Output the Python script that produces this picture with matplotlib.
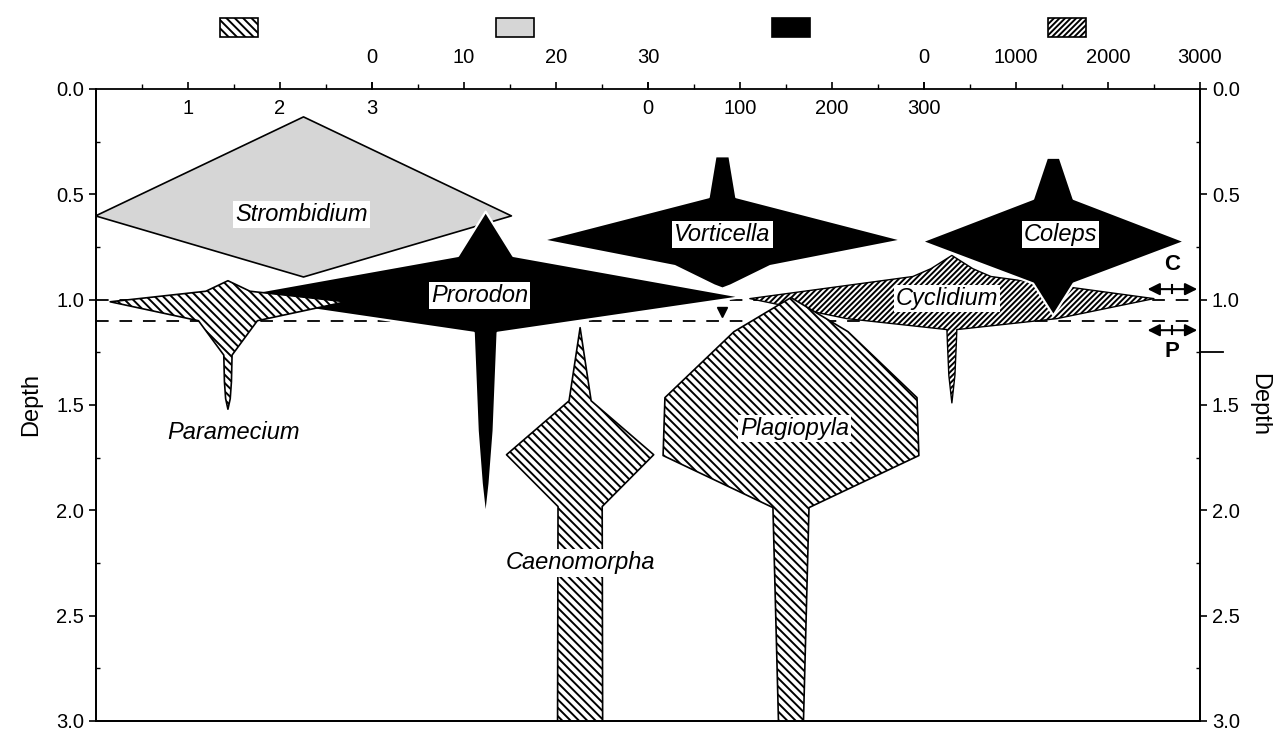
import matplotlib
matplotlib.use("Agg")
import matplotlib.pyplot as plt
from matplotlib.patches import Rectangle

plt.rcParams['font.family'] = ['Liberation Sans', 'DejaVu Sans']
plt.rcParams['hatch.linewidth'] = 1.4

# ---------------------------------------------------------------
# Abundance scales shown along the top (one per fill style)
# ---------------------------------------------------------------
scale_names = ['hatch', 'stipple', 'black', 'dense']
scale_max = [3, 30, 300, 3000]
scale_major = [[1, 2, 3], [0, 10, 20, 30], [0, 100, 200, 300], [0, 1000, 2000, 3000]]
scale_minor = [[0.5, 1.5, 2.5], [5, 15, 25], [50, 150, 250], [500, 1500, 2500]]
scale_labels_inside = [True, False, True, False]

depth_ticks = [0.0, 0.5, 1.0, 1.5, 2.0, 2.5, 3.0]
depth_minor = [0.25, 0.75, 1.25, 1.75, 2.25, 2.75]

# ---------------------------------------------------------------
# Kite profiles: depth and half-width abundance (in the units of its scale)
# ---------------------------------------------------------------
strombidium_depth = [0.13, 0.60, 0.89]
strombidium_abund = [0.0, 22.6, 0.0]

prorodon_depth = [0.58, 0.79, 0.985, 1.155, 1.62, 1.87, 2.04]
prorodon_abund = [0.0, 30.0, 279.0, 13.0, 8.7, 4.3, 0.0]

vorticella_depth = [0.317, 0.511, 0.715, 0.838, 0.93, 0.945]
vorticella_abund = [7.6, 15.0, 196.0, 52.0, 9.0, 0.0]

coleps_depth = [0.324, 0.519, 0.722, 0.921, 1.073]
coleps_abund = [7.0, 22.0, 143.0, 22.0, 0.0]

paramecium_depth = [0.91, 0.96, 1.01, 1.10, 1.263, 1.39, 1.47, 1.52]
paramecium_abund = [0.0, 0.24, 1.28, 0.32, 0.045, 0.038, 0.025, 0.0]

cyclidium_depth = [0.79, 0.853, 0.89, 0.995, 1.09, 1.142, 1.20, 1.36, 1.49]
cyclidium_abund = [0.0, 228.0, 424.0, 2196.0, 1141.0, 54.0, 49.0, 33.0, 0.0]

plagiopyla_depth = [0.99, 1.152, 1.465, 1.74, 1.987, 3.0]
plagiopyla_abund = [0.0, 0.62, 1.37, 1.39, 0.196, 0.136]

caenomorpha_depth = [1.133, 1.48, 1.736, 1.982, 3.0]
caenomorpha_abund = [0.0, 0.12, 0.80, 0.24, 0.245]

c_zone_depth = 1.0
p_zone_depth = 1.1
p_zone_base = 1.25
marker_depth = 1.06

# ---------------------------------------------------------------
# Layout: position of each kite's centre line (0-4, one unit per scale)
# ---------------------------------------------------------------
kites = [
    # name, depth, abund, scale index, centre, zorder, label pos (x, depth), boxed
    ('Strombidium', strombidium_depth, strombidium_abund, 1, 0.75, 2, (0.745, 0.595), True),
    ('Vorticella', vorticella_depth, vorticella_abund, 2, 2.268, 3, (2.27, 0.69), True),
    ('Prorodon', prorodon_depth, prorodon_abund, 2, 1.41, 4, (1.39, 0.98), True),
    ('Paramecium', paramecium_depth, paramecium_abund, 0, 0.478, 5, (0.50, 1.63), False),
    ('Cyclidium', cyclidium_depth, cyclidium_abund, 3, 3.101, 3, (3.083, 0.995), True),
    ('Coleps', coleps_depth, coleps_abund, 2, 3.467, 4, (3.495, 0.69), True),
    ('Plagiopyla', plagiopyla_depth, plagiopyla_abund, 0, 2.518, 5, (2.532, 1.61), True),
    ('Caenomorpha', caenomorpha_depth, caenomorpha_abund, 0, 1.754, 5, (1.754, 2.25), True),
]

styles = {
    'hatch': dict(facecolor='white', edgecolor='black', hatch='\\\\\\\\', linewidth=1.2),
    'stipple': dict(facecolor='#d6d6d6', edgecolor='black', linewidth=1.2),
    'black': dict(facecolor='black', edgecolor='white', linewidth=1.6),
    'dense': dict(facecolor='white', edgecolor='black', hatch='//////', linewidth=1.0),
}

W, H = 1284, 741
fig = plt.figure(figsize=(W / 100, H / 100), dpi=100)
ax = fig.add_axes([96 / W, 1 - 721 / H, 1104 / W, 632 / H])
ax.set_xlim(0, 4)
ax.set_ylim(3.0, 0.0)

for name, dep, ab, si, xc, z, (lx, ly), boxed in kites:
    vmax = scale_max[si]
    left = [xc - a / vmax for a in ab]
    right = [xc + a / vmax for a in ab]
    ax.fill_betweenx(dep, left, right, zorder=z, **styles[scale_names[si]])
    box = dict(facecolor='white', edgecolor='none', pad=1.5) if boxed else None
    ax.text(lx, ly, name, style='italic', fontsize=17, ha='center', va='center',
            bbox=box, zorder=10)

# zone boundaries
ax.axhline(c_zone_depth, color='black', lw=1.3, ls=(0, (7, 6)), zorder=1)
ax.axhline(p_zone_depth, color='black', lw=1.3, ls=(0, (7, 6)), zorder=1)
ax.plot([2.268], [marker_depth], marker='v', color='black', ms=7, zorder=6)
ax.plot([4.0, 4.085], [p_zone_base, p_zone_base], color='black', lw=1.3,
        clip_on=False, zorder=7)

# C / P arrows on the right
for d, lab, dy in [(0.95, 'C', -0.115), (1.145, 'P', 0.1)]:
    ax.annotate('', xy=(3.81, d), xytext=(3.99, d),
                arrowprops=dict(arrowstyle='<|-|>', color='black', lw=1.5,
                                mutation_scale=18, shrinkA=0, shrinkB=0), zorder=7)
    ax.plot([3.90, 3.90], [d - 0.02, d + 0.02], color='black', lw=1.5, zorder=7)
    ax.text(3.90, d + dy, lab, fontsize=16, fontweight='bold', ha='center', va='center')

# depth axes (left on ax, right on a twin sharing the same depth scale)
ax2 = ax.twinx()
ax2.set_ylim(3.0, 0.0)
for a, side in ((ax, 'left'), (ax2, 'right')):
    a.set_yticks(depth_ticks)
    a.set_yticklabels([f'{t:.1f}' for t in depth_ticks])
    a.set_yticks(depth_minor, minor=True)
    a.tick_params(axis='y', which='major', direction='out', length=5, width=1.2,
                  labelsize=14.5)
    a.tick_params(axis='y', which='minor', direction='in', length=3, width=1.0)
    a.tick_params(axis='x', which='both', bottom=False, top=False,
                  labelbottom=False, labeltop=False)
    a.spines['top'].set_visible(False)
    for s in ('left', 'right', 'bottom'):
        a.spines[s].set_linewidth(1.3)
ax.set_ylabel('Depth', fontsize=17, labelpad=10)
ax2.set_ylabel('Depth', fontsize=17, rotation=-90, labelpad=22)

# abundance scales along the top
for k in range(4):
    vmax = scale_max[k]
    sec = ax.secondary_xaxis('top', functions=(lambda x, k=k, v=vmax: (x - k) * v,
                                               lambda y, k=k, v=vmax: y / v + k))
    sec.set_xticks(scale_major[k])
    sec.set_xticks(scale_minor[k], minor=True)
    sec.spines['top'].set_bounds(0, vmax)
    sec.spines['top'].set_linewidth(1.3)
    pad = -26 if scale_labels_inside[k] else 11
    sec.tick_params(which='major', direction='out', length=5, width=1.2,
                    labelsize=14.5, pad=pad)
    sec.tick_params(which='minor', direction='out', length=3.5, width=1.0)
    # fill-style key above each scale
    x0 = 96 + 276 * k + 124
    key = Rectangle((x0 / W, 1 - 37 / H), 38 / W, 19 / H, transform=fig.transFigure,
                    clip_on=False, **{kk: vv for kk, vv in styles[scale_names[k]].items()
                                     if kk != 'edgecolor' and kk != 'linewidth'},
                    edgecolor='black', linewidth=1.2)
    fig.add_artist(key)

fig.savefig('out.png', dpi=100)
